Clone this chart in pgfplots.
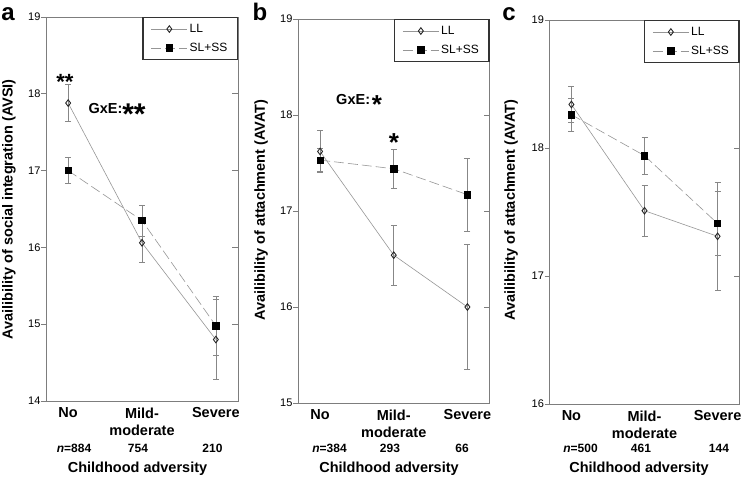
\documentclass[border=0pt]{standalone}
\usepackage{fontspec}
\setmainfont{Liberation Sans}
\usepackage{pgfplots}
\pgfplotsset{compat=1.18}

\definecolor{lineGray}{RGB}{150,150,150}
\definecolor{barGray}{RGB}{135,135,135}
\definecolor{axGray}{RGB}{125,125,125}
\newcommand{\fs}[1]{\fontsize{#1}{#1}\selectfont}

\pgfplotsset{
  panel/.style={
    scale only axis,
    height=384pt,
    xmin=0.7, xmax=3.3,
    xtick={1,2,3},
    xticklabels={No,{Mild-\\moderate},Severe},
    xticklabel style={align=center, anchor=north, yshift=2pt,
      font=\bfseries\fontsize{14.5}{17}\selectfont},
    x tick style={draw=none},
    ytick pos=left,
    tick align=outside,
    major tick length=5pt,
    y tick style={axGray, line width=0.7pt},
    yticklabel style={font=\fs{11}, xshift=3pt},
    /pgf/number format/assume math mode=true,
    axis line style={axGray, line width=0.8pt},
    legend cell align=left,
    legend style={at={(1,1)}, anchor=north east, draw=black!80,
      line width=1.3pt, font=\fs{12}, inner xsep=8pt, inner ysep=4.5pt,
      row sep=5pt},
    legend image code/.code={
      \draw[##1, mark=none] (0pt,0pt) -- (36pt,0pt);
      \draw[##1] plot coordinates {(18pt,0pt)};
    },
  },
  ll/.style={
    lineGray, line width=0.6pt,
    mark=diamond, mark size=3.3pt,
    mark options={solid, fill=white, draw=black!85, line width=0.9pt},
    /pgfplots/error bars/y dir=both,
    /pgfplots/error bars/y explicit,
    /pgfplots/error bars/error bar style={barGray, line width=0.6pt, solid},
    /pgfplots/error bars/error mark options={barGray, mark size=3pt, line width=0.6pt, rotate=90},
  },
  ss/.style={
    lineGray, line width=0.6pt, dash pattern=on 10pt off 4pt,
    mark=square*, mark size=3.2pt,
    mark options={solid, fill=black, draw=black},
    /pgfplots/error bars/y dir=both,
    /pgfplots/error bars/y explicit,
    /pgfplots/error bars/error bar style={barGray, line width=0.6pt, solid},
    /pgfplots/error bars/error mark options={barGray, mark size=3pt, line width=0.6pt, rotate=90},
  },
}

\begin{document}
\begin{tikzpicture}
\path[use as bounding box] (0,0) rectangle (744pt,481pt);

% panel a
\begin{axis}[panel, at={(46pt,80pt)}, anchor=south west, width=192pt,
  ymin=14, ymax=19, ytick={14,...,19}]
  \addplot[ll] coordinates {(1,17.88) +- (0,0.24) (2,16.06) +- (0,0.26) (3,14.80) +- (0,0.52)};
  \addlegendentry{LL}
  \addplot[ss] coordinates {(1,17.00) +- (0,0.17) (2,16.35) +- (0,0.20) (3,14.98) +- (0,0.38)};
  \addlegendentry{SL+SS}
  \pgfplotsinvokeforeach{15,16,17,18}{\draw[axGray, line width=0.7pt] (axis cs:3.3,#1) -- ++(-6pt,0pt);}
\end{axis}

% panel b
\begin{axis}[panel, at={(298pt,78pt)}, anchor=south west, width=191.5pt,
  ymin=15, ymax=19, ytick={15,...,19}]
  \addplot[ll] coordinates {(1,17.62) +- (0,0.22) (2,16.54) +- (0,0.31) (3,16.00) +- (0,0.65)};
  \addlegendentry{LL}
  \addplot[ss] coordinates {(1,17.53) +- (0,0.12) (2,17.44) +- (0,0.20) (3,17.17) +- (0,0.38)};
  \addlegendentry{SL+SS}
  \pgfplotsinvokeforeach{16,17,18}{\draw[axGray, line width=0.7pt] (axis cs:3.3,#1) -- ++(-6pt,0pt);}
\end{axis}

% panel c
\begin{axis}[panel, at={(549.5pt,77pt)}, anchor=south west, width=190pt,
  ymin=16, ymax=19, ytick={16,...,19}]
  \addplot[ll] coordinates {(1,18.34) +- (0,0.14) (2,17.51) +- (0,0.20) (3,17.31) +- (0,0.42)};
  \addlegendentry{LL}
  \addplot[ss] coordinates {(1,18.26) +- (0,0.13) (2,17.94) +- (0,0.145) (3,17.41) +- (0,0.25)};
  \addlegendentry{SL+SS}
  \pgfplotsinvokeforeach{17,18}{\draw[axGray, line width=0.7pt] (axis cs:3.3,#1) -- ++(-6pt,0pt);}
\end{axis}

% panel letters
\node[anchor=base, font=\bfseries\fs{24}] at (8pt,460.3pt) {a};
\node[anchor=base, font=\bfseries\fs{24}] at (260pt,460.3pt) {b};
\node[anchor=base, font=\bfseries\fs{24}] at (509pt,460.3pt) {c};

% y labels
\node[rotate=90, font=\bfseries\fs{14.5}] at (9pt,271.5pt) {Availibility of social integration (AVSI)};
\node[rotate=90, font=\bfseries\fs{14.5}] at (261pt,271pt) {Availibility of attachment (AVAT)};
\node[rotate=90, font=\bfseries\fs{14.5}] at (511pt,271pt) {Availibility of attachment (AVAT)};

% group sizes
\node[anchor=base, font=\bfseries\fs{12}] at (74pt,28pt) {\textit{n}=884};
\node[anchor=base, font=\bfseries\fs{12}] at (138pt,28pt) {754};
\node[anchor=base, font=\bfseries\fs{12}] at (212.5pt,28pt) {210};
\node[anchor=base, font=\bfseries\fs{12}] at (329.5pt,28pt) {\textit{n}=384};
\node[anchor=base, font=\bfseries\fs{12}] at (390pt,28pt) {293};
\node[anchor=base, font=\bfseries\fs{12}] at (462pt,28pt) {66};
\node[anchor=base, font=\bfseries\fs{12}] at (580.5pt,28pt) {\textit{n}=500};
\node[anchor=base, font=\bfseries\fs{12}] at (641pt,28pt) {461};
\node[anchor=base, font=\bfseries\fs{12}] at (719pt,28pt) {144};

% x labels
\node[anchor=base, font=\bfseries\fs{14.5}] at (137.5pt,8.7pt) {Childhood adversity};
\node[anchor=base, font=\bfseries\fs{14.5}] at (389pt,8.7pt) {Childhood adversity};
\node[anchor=base, font=\bfseries\fs{14.5}] at (639pt,8.7pt) {Childhood adversity};

% significance marks
\node[anchor=base, font=\bfseries\fs{22}] at (65pt,391.5pt) {**};
\node[anchor=base west, font=\bfseries\fs{14.5}] at (85pt,367.7pt) {GxE:};
\node[anchor=base, font=\bfseries\fs{30}] at (134pt,356.9pt) {**};
\node[anchor=base west, font=\bfseries\fs{14.5}] at (332.7pt,376pt) {GxE:};
\node[anchor=base, font=\bfseries\fs{26}] at (377pt,367.5pt) {*};
\node[anchor=base, font=\bfseries\fs{26}] at (394pt,329.9pt) {*};
\end{tikzpicture}
\end{document}
